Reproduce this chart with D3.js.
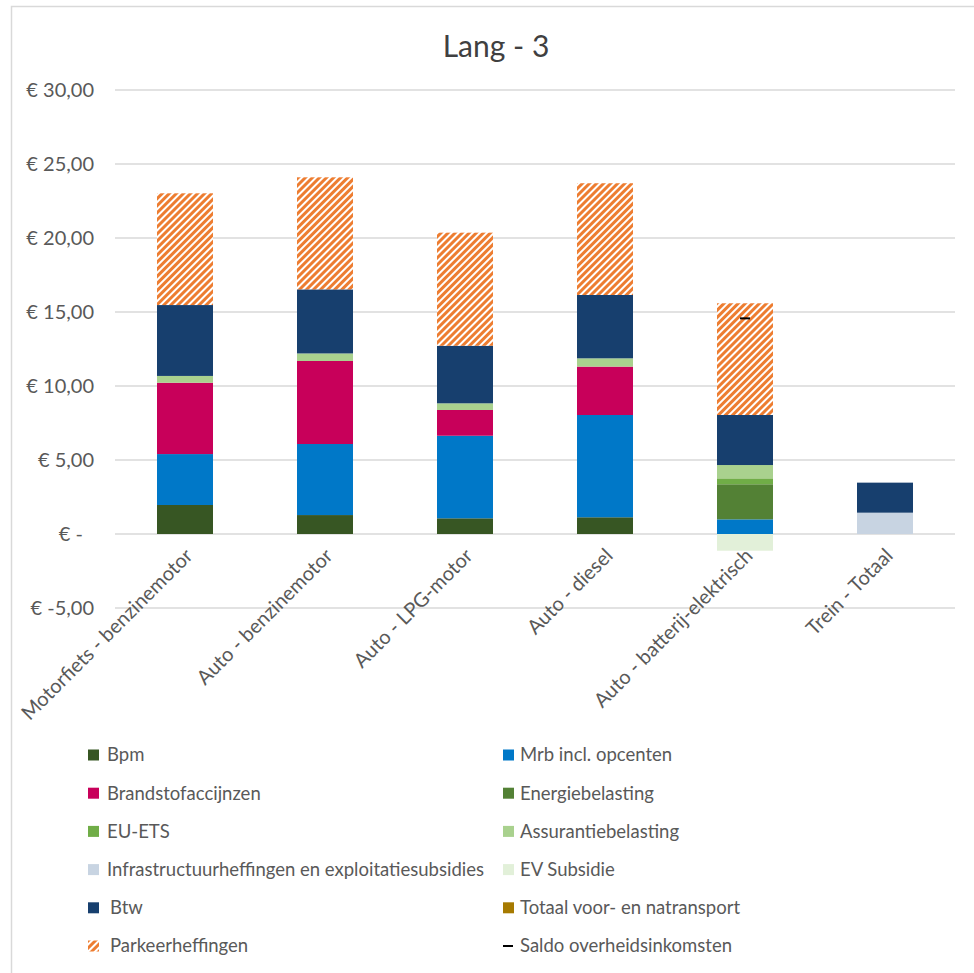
<!DOCTYPE html>
<html>
<head>
<meta charset="utf-8">
<script src="https://cdn.jsdelivr.net/npm/d3@7"></script>
<style>
  html, body { margin: 0; padding: 0; background: #fff; }
  svg { display: block; font-family: Lato, "Liberation Sans", sans-serif; }
</style>
</head>
<body>
<svg id="chart" width="974" height="973"></svg>
<script>
// ---- data ----
const title = "Lang - 3";
const categories = [
  "Motorfiets - benzinemotor",
  "Auto - benzinemotor",
  "Auto - LPG-motor",
  "Auto - diesel",
  "Auto - batterij-elektrisch",
  "Trein - Totaal"
];
const seriesNames = [
  "Bpm", "Mrb incl. opcenten", "Brandstofaccijnzen", "Energiebelasting",
  "EU-ETS", "Assurantiebelasting", "Infrastructuurheffingen en exploitatiesubsidies",
  "EV Subsidie", "Btw", "Totaal voor- en natransport", "Parkeerheffingen"
];
const bpm        = [1.96, 1.28, 1.06, 1.13, 0, 0];
const mrb        = [3.44, 4.80, 5.58, 6.91, 0.99, 0];
const brandstof  = [4.82, 5.61, 1.74, 3.27, 0, 0];
const energie    = [0, 0, 0, 0, 2.37, 0];
const euEts      = [0, 0, 0, 0, 0.40, 0];
const assurantie = [0.46, 0.51, 0.45, 0.56, 0.90, 0];
const infra      = [0, 0, 0, 0, 0, 1.44];
const evSubsidie = [0, 0, 0, 0, -1.13, 0];
const btw        = [4.79, 4.33, 3.89, 4.28, 3.38, 2.03];
const voorNa     = [0, 0, 0, 0, 0, 0];
const parkeer    = [7.55, 7.57, 7.64, 7.55, 7.55, 0];
const saldo      = [null, null, null, null, 14.57, null];
const tickValues = [-5, 0, 5, 10, 15, 20, 25, 30];
const tickLabels = ["€ -5,00", "€ -", "€ 5,00", "€ 10,00", "€ 15,00", "€ 20,00", "€ 25,00", "€ 30,00"];
const colors = ["#375623", "#0078C8", "#C8005A", "#538135", "#70AD47", "#A9D18E",
                "#C8D4E2", "#E2F0D9", "#173F6E", "#A67A00", "url(#hatch)"];
const legendLabels = [
  "Bpm", "Mrb incl. opcenten",
  "Brandstofaccijnzen", "Energiebelasting",
  "EU-ETS", "Assurantiebelasting",
  "Infrastructuurheffingen en exploitatiesubsidies", "EV Subsidie",
  "Btw", "Totaal voor- en natransport",
  "Parkeerheffingen", "Saldo overheidsinkomsten"
];

const seriesValues = [bpm, mrb, brandstof, energie, euEts, assurantie, infra, evSubsidie, btw, voorNa, parkeer];

// ---- build ----
const svg = d3.select("#chart");
const textColor = "#595959";
const fs = 20;
const legendFs = 18.5;

const defs = svg.append("defs");
const pat = defs.append("pattern")
  .attr("id", "hatch").attr("patternUnits", "userSpaceOnUse")
  .attr("width", 5).attr("height", 5)
  .attr("patternTransform", "rotate(45)");
pat.append("rect").attr("width", 5).attr("height", 5).attr("fill", "#fff");
pat.append("rect").attr("x", 0).attr("y", 0).attr("width", 3).attr("height", 5).attr("fill", "#ED7D31");

// outer border
svg.append("rect").attr("x", 11.5).attr("y", 6.5).attr("width", 980).attr("height", 980)
  .attr("fill", "none").attr("stroke", "#d9d9d9").attr("stroke-width", 1.5);

svg.append("text").attr("x", 496).attr("y", 57).attr("text-anchor", "middle")
  .attr("font-size", 30).attr("fill", "#404040").text(title);

const x = d3.scaleBand().domain(categories).range([115, 955]).paddingInner(0.6).paddingOuter(0.3);
const y = d3.scaleLinear().domain([-5, 30]).range([608, 90]);

// gridlines
svg.append("g").selectAll("line").data(tickValues).join("line")
  .attr("x1", 115).attr("x2", 955)
  .attr("y1", d => y(d)).attr("y2", d => y(d))
  .attr("stroke", "#d9d9d9").attr("stroke-width", 1.5);

// y axis labels
const yAxis = d3.axisLeft(y).tickValues(tickValues)
  .tickFormat((d, i) => tickLabels[i]).tickSize(0).tickPadding(0);
const gy = svg.append("g").attr("transform", "translate(94,0)").call(yAxis);
gy.select(".domain").remove();
gy.selectAll("text").attr("font-size", fs).attr("fill", textColor)
  .attr("font-family", "Lato, sans-serif")
  .attr("x", (d) => d === 0 ? -11 : 0);

// stacked data
const rows = categories.map((c, i) => {
  const o = { cat: c };
  seriesNames.forEach((s, j) => o[s] = seriesValues[j][i]);
  return o;
});
const stack = d3.stack().keys(seriesNames).offset(d3.stackOffsetDiverging);
const layers = stack(rows);

svg.append("g").selectAll("g").data(layers).join("g")
  .attr("fill", (d, i) => colors[i])
  .selectAll("rect").data(d => d).join("rect")
  .attr("x", d => x(d.data.cat))
  .attr("width", x.bandwidth())
  .attr("y", d => y(Math.max(d[0], d[1])))
  .attr("height", d => Math.abs(y(d[0]) - y(d[1])));

// saldo markers
svg.append("g").selectAll("line").data(categories.map((c, i) => ({ c, v: saldo[i] })).filter(d => d.v !== null))
  .join("line")
  .attr("x1", d => x(d.c) + x.bandwidth() / 2 - 5)
  .attr("x2", d => x(d.c) + x.bandwidth() / 2 + 5)
  .attr("y1", d => y(d.v)).attr("y2", d => y(d.v))
  .attr("stroke", "#000").attr("stroke-width", 2);

// category labels
const xAxis = d3.axisBottom(x).tickSize(0).tickPadding(0);
const gx = svg.append("g").call(xAxis);
gx.select(".domain").remove();
gx.selectAll(".tick").attr("transform", d => `translate(${x(d) + x.bandwidth() / 2 + 9},557)`);
gx.selectAll("text")
  .attr("y", 0).attr("dy", "0").attr("x", 0)
  .attr("transform", "rotate(-45)")
  .attr("text-anchor", "end")
  .attr("font-size", fs).attr("fill", textColor)
  .attr("font-family", "Lato, sans-serif");

// legend
const legend = svg.append("g");
const colX = [88, 503];
legendLabels.forEach((lab, i) => {
  const col = i % 2, row = Math.floor(i / 2);
  const cy = 755 + row * 38.2;
  const g = legend.append("g").attr("transform", `translate(${colX[col]},${cy})`);
  if (i === 11) {
    g.append("line").attr("x1", 0).attr("x2", 10).attr("y1", 0).attr("y2", 0)
      .attr("stroke", "#000").attr("stroke-width", 2);
  } else {
    g.append("rect").attr("x", 0).attr("y", -5.5).attr("width", 11).attr("height", 11)
      .attr("fill", colors[i]);
  }
  const tx = col === 0 ? ((i === 8 || i === 10) ? 22 : 19) : 17;
  g.append("text").attr("x", tx).attr("y", 0).attr("dy", "0.35em")
    .attr("font-size", legendFs).attr("fill", textColor).text(lab);
});
</script>
</body>
</html>
